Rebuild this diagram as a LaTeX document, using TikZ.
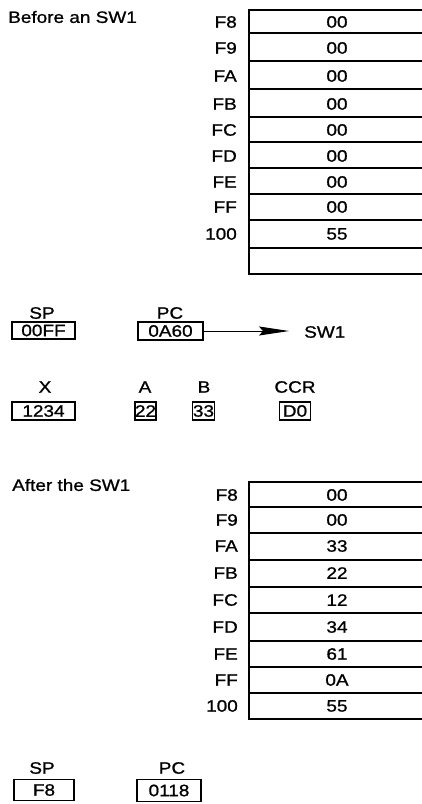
\documentclass[tikz,border=0pt]{standalone}
\usepackage{fontspec}
\setmainfont{Liberation Sans}[FakeStretch=1.15, FakeBold=1]
\usetikzlibrary{arrows.meta}
\tikzset{
  txt/.style={inner sep=0pt, font=\fontsize{16.5}{18}\selectfont},
  reg/.style={txt, draw, line width=1.3pt, inner sep=0pt},
  grid/.style={line width=1.3pt},
}
\begin{document}
\begin{tikzpicture}[x=1pt,y=-1pt]
\useasboundingbox (0,0) rectangle (422,804);
% ---------- Before ----------
\node[txt, anchor=west] (title1) at (8,17) {Before an SW1};
\draw[grid] (422,10) -- (249,10) -- (249,274) -- (422,274);
\foreach \yy in {33,61,89,117,142,168,194,220,248}
  \draw[grid] (249,\yy) -- (422,\yy);
\foreach \name/\lab/\yy/\val in {a1/F8/22/00, a2/F9/48/00, a3/FA/76/00, a4/FB/104/00, a5/FC/130/00, a6/FD/156/00, a7/FE/182/00, a8/FF/207/00, a9/100/234/55}{
  \node[txt, anchor=east] (l\name) at (237,\yy) {\lab};
  \node[txt] (v\name) at (337,\yy) {\val};
}
% registers before
\node[txt] (spl) at (42,313) {SP};
\node[reg, minimum width=63pt, minimum height=17pt] (sp) at (43.5,330.5) {00FF};
\node[txt] (pcl) at (170,313) {PC};
\node[reg, minimum width=65pt, minimum height=18pt] (pc) at (170.5,331) {0A60};
\node[txt, anchor=west] (sw) at (304,332) {SW1};
\draw[line width=0.9pt, -{Stealth[length=30pt, width=9pt, inset=4pt]}] (pc.east) -- ([xshift=-15pt]sw.west |- pc.east);
\node[txt] (xl) at (45,387) {X};
\node[reg, minimum width=63pt, minimum height=18pt] (x) at (43.5,411) {1234};
\node[txt] (al) at (145,387) {A};
\node[reg, minimum width=19pt, minimum height=18pt] (a) at (145.5,411) {22};
\node[txt] (bl) at (204,387) {B};
\node[reg, minimum width=22pt, minimum height=18pt] (b) at (203.5,411) {33};
\node[txt] (ccrl) at (295,387) {CCR};
\node[reg, minimum width=31pt, minimum height=18pt] (ccr) at (295,411) {D0};
% ---------- After ----------
\node[txt, anchor=west] (title2) at (12,485) {After the SW1};
\draw[grid] (422,482) -- (249,482) -- (249,719) -- (422,719);
\foreach \yy in {507,533,560,587,613,641,667,693}
  \draw[grid] (249,\yy) -- (422,\yy);
\foreach \name/\lab/\yy/\val in {b1/F8/495/00, b2/F9/520/00, b3/FA/546/33, b4/FB/573/22, b5/FC/600/12, b6/FD/627/34, b7/FE/654/61, b8/FF/680/0A, b9/100/706/55}{
  \node[txt, anchor=east] (l\name) at (238,\yy) {\lab};
  \node[txt] (v\name) at (337,\yy) {\val};
}
\node[txt] (sp2l) at (42,768) {SP};
\node[reg, minimum width=60pt, minimum height=21pt] (sp2) at (44,790) {F8};
\node[txt] (pc2l) at (172,768) {PC};
\node[reg, minimum width=64pt, minimum height=22pt] (pc2) at (169,790.5) {0118};
\end{tikzpicture}
\end{document}
